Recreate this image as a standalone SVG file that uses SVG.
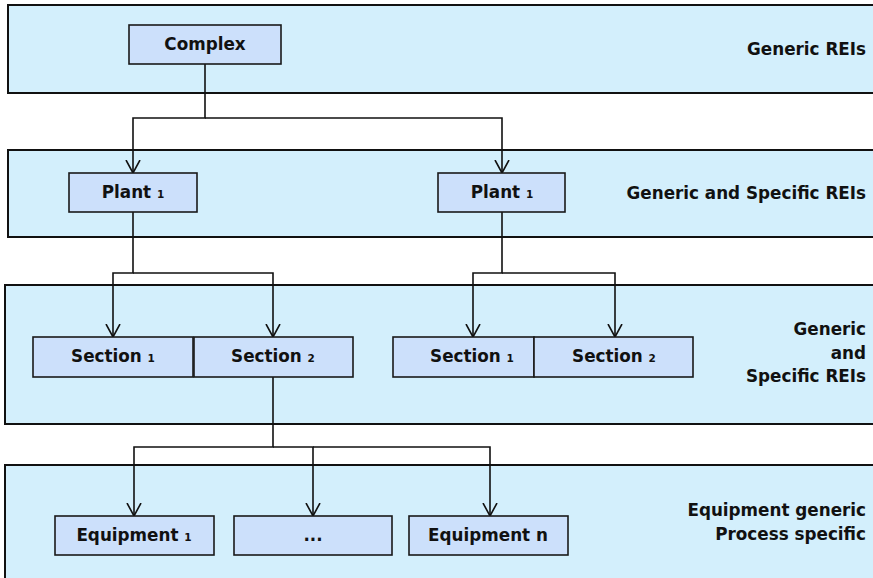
<svg xmlns="http://www.w3.org/2000/svg" width="873" height="578" viewBox="0 0 873 578">
  <style>
    .band { fill: #d3effc; stroke: #111; stroke-width: 2; }
    .node { fill: #cce0fb; stroke: #1a1a1a; stroke-width: 1.6; }
    .lbl { font-family: "DejaVu Sans", "Liberation Sans", sans-serif; font-weight: bold; font-size: 16.8px; fill: #111; }
    .mid { text-anchor: middle; }
    .end { text-anchor: end; }
    .sub { font-size: 10.5px; }
    .wire { fill: none; stroke: #111; stroke-width: 1.6; }
  </style>
  <defs>
    <!-- open V arrowhead, tip at the end of the line -->
    <marker id="vee" viewBox="0 0 14 16" refX="13" refY="8" markerWidth="14" markerHeight="16" markerUnits="userSpaceOnUse" orient="auto">
      <path d="M0,1 L13,8 L0,15" fill="none" stroke="#111" stroke-width="1.6"/>
    </marker>
  </defs>

  <rect width="873" height="578" fill="#fff"/>

  <!-- level bands -->
  <g id="bands">
    <rect class="band" x="8" y="5" width="880" height="88"/>
    <rect class="band" x="8" y="150" width="880" height="87"/>
    <rect class="band" x="5" y="285" width="880" height="139"/>
    <rect class="band" x="5" y="465" width="880" height="130"/>
  </g>

  <!-- band captions -->
  <g id="captions" class="lbl end">
    <text x="866" y="55">Generic REIs</text>
    <text x="866" y="199">Generic and Specific REIs</text>
    <text x="866" y="335">Generic</text>
    <text x="866" y="359">and</text>
    <text x="866" y="382">Specific REIs</text>
    <text x="866" y="516">Equipment generic</text>
    <text x="866" y="540">Process specific</text>
  </g>

  <!-- connectors -->
  <g id="connectors">
    <path class="wire" d="M205,64 V118 H133 V173" marker-end="url(#vee)"/>
    <path class="wire" d="M205,118 H502 V173" marker-end="url(#vee)"/>
    <path class="wire" d="M133,212 V273 H113 V337" marker-end="url(#vee)"/>
    <path class="wire" d="M133,273 H273 V337" marker-end="url(#vee)"/>
    <path class="wire" d="M502,212 V273 H473 V337" marker-end="url(#vee)"/>
    <path class="wire" d="M502,273 H615 V337" marker-end="url(#vee)"/>
    <path class="wire" d="M273,377 V447 H134 V516" marker-end="url(#vee)"/>
    <path class="wire" d="M273,447 H313 V516" marker-end="url(#vee)"/>
    <path class="wire" d="M313,447 H490 V516" marker-end="url(#vee)"/>
  </g>

  <!-- nodes -->
  <g id="complex">
    <rect class="node" x="129" y="25" width="152" height="39"/>
    <text class="lbl mid" x="205" y="50">Complex</text>
  </g>
  <g id="plant-a">
    <rect class="node" x="69" y="173" width="128" height="39"/>
    <text class="lbl mid" x="133" y="198">Plant <tspan class="sub">1</tspan></text>
  </g>
  <g id="plant-b">
    <rect class="node" x="438" y="173" width="127" height="39"/>
    <text class="lbl mid" x="502" y="198">Plant <tspan class="sub">1</tspan></text>
  </g>
  <g id="section-a1">
    <rect class="node" x="33" y="337" width="160" height="40"/>
    <text class="lbl mid" x="113" y="362">Section <tspan class="sub">1</tspan></text>
  </g>
  <g id="section-a2">
    <rect class="node" x="194" y="337" width="159" height="40"/>
    <text class="lbl mid" x="273" y="362">Section <tspan class="sub">2</tspan></text>
  </g>
  <g id="section-b1">
    <rect class="node" x="393" y="337" width="141" height="40"/>
    <text class="lbl mid" x="472" y="362">Section <tspan class="sub">1</tspan></text>
  </g>
  <g id="section-b2">
    <rect class="node" x="534" y="337" width="159" height="40"/>
    <text class="lbl mid" x="614" y="362">Section <tspan class="sub">2</tspan></text>
  </g>
  <g id="equipment-1">
    <rect class="node" x="55" y="516" width="159" height="39"/>
    <text class="lbl mid" x="134" y="541">Equipment <tspan class="sub">1</tspan></text>
  </g>
  <g id="equipment-more">
    <rect class="node" x="234" y="516" width="158" height="39"/>
    <text class="lbl mid" x="313" y="541">...</text>
  </g>
  <g id="equipment-n">
    <rect class="node" x="409" y="516" width="159" height="39"/>
    <text class="lbl mid" x="488" y="541">Equipment n</text>
  </g>
</svg>
